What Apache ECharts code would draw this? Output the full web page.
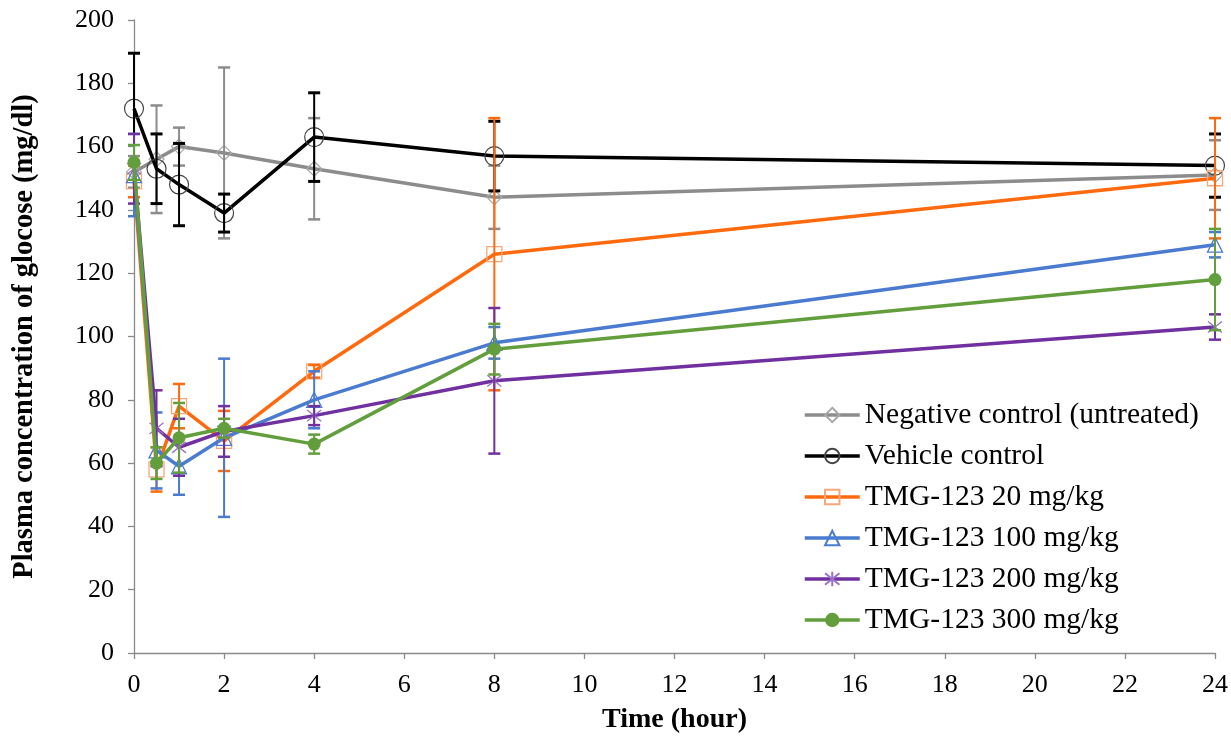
<!DOCTYPE html>
<html>
<head>
<meta charset="utf-8">
<script src="https://cdn.jsdelivr.net/npm/echarts@6/dist/echarts.min.js"></script>
<style>
  html, body { margin: 0; padding: 0; background: #fff; }
  #chart { width: 1231px; height: 740px; }
</style>
</head>
<body>
<div id="chart"></div>
<script>
// Sampling times (hours after dosing)
const times = [0, 0.5, 1, 2, 4, 8, 24];

// Mean plasma glucose (mg/dl) and error (+/-) per group
const negCtrl   = [152, 156, 160, 158, 153, 144, 151];
const negErr    = [5, 17, 6, 27, 16, 10, 11];
const vehicle   = [172, 153, 148, 139, 163, 157, 154];
const vehErr    = [17.5, 11, 13, 6, 14, 11, 10];
const tmg20     = [149, 58, 78, 67, 89, 126, 150];
const tmg20Err  = [5, 7, 7, 9.5, 2, 43, 19];
const tmg100    = [151, 64, 59, 68, 80, 98, 129];
const tmg100Err = [13, 12, 9, 25, 9, 5, 4];
const tmg200    = [153, 71, 65, 70, 75, 86, 103];
const tmg200Err = [11, 12, 9, 8, 3, 23, 4];
const tmg300    = [155, 60, 68, 71, 66, 96, 118];
const tmg300Err = [5.5, 5, 11, 3, 3, 8, 16];

// Axis ticks
const xTicks = [0, 2, 4, 6, 8, 10, 12, 14, 16, 18, 20, 22, 24];
const yTicks = [0, 20, 40, 60, 80, 100, 120, 140, 160, 180, 200];

const seriesNames = [
  'Negative control (untreated)',
  'Vehicle control',
  'TMG-123 20 mg/kg',
  'TMG-123 100 mg/kg',
  'TMG-123 200 mg/kg',
  'TMG-123 300 mg/kg'
];

const FONT = "'Liberation Serif', 'Times New Roman', serif";
const starPath = 'path://M1,1L9,9M9,1L1,9M5,0L5,10';

const groups = [
  { name: seriesNames[0], values: negCtrl, err: negErr, line: '#8C8C8C', bar: '#8C8C8C', capW: 2.5,
    symbol: 'diamond', size: 15, fill: 'rgba(0,0,0,0)', border: '#A8A8A8', bw: 1.2 },
  { name: seriesNames[1], values: vehicle, err: vehErr, line: '#000000', bar: '#000000', capW: 3,
    symbol: 'circle', size: 19, fill: 'rgba(0,0,0,0)', border: '#444444', bw: 1.2 },
  { name: seriesNames[2], values: tmg20, err: tmg20Err, line: '#FF6A0E', bar: '#FF6A0E', capW: 2.5,
    symbol: 'rect', size: 15, fill: 'rgba(0,0,0,0)', border: '#F8A878', bw: 1.3 },
  { name: seriesNames[3], values: tmg100, err: tmg100Err, line: '#4A7BD0', bar: '#4A7BD0', capW: 2.5,
    symbol: 'triangle', size: 15, fill: 'rgba(0,0,0,0)', border: '#4A7BD0', bw: 1.3 },
  { name: seriesNames[4], values: tmg200, err: tmg200Err, line: '#7030A0', bar: '#7030A0', capW: 2.5,
    symbol: starPath, size: 14, fill: 'rgba(0,0,0,0)', border: '#9B72C9', bw: 1.3 },
  { name: seriesNames[5], values: tmg300, err: tmg300Err, line: '#629F3C', bar: '#629F3C', capW: 2.5,
    symbol: 'circle', size: 13, fill: '#629F3C', border: '#629F3C', bw: 0 }
];

function errorBarRenderer(color, capWidth) {
  return function (params, api) {
    const x = api.value(0);
    const lo = api.coord([x, api.value(1)]);
    const hi = api.coord([x, api.value(2)]);
    const half = 6;
    const style = { stroke: color, lineWidth: 2 };
    const capStyle = { stroke: color, lineWidth: capWidth };
    return {
      type: 'group',
      children: [
        { type: 'line', shape: { x1: lo[0], y1: lo[1], x2: hi[0], y2: hi[1] }, style: style },
        { type: 'line', shape: { x1: hi[0] - half, y1: hi[1], x2: hi[0] + half, y2: hi[1] }, style: capStyle },
        { type: 'line', shape: { x1: lo[0] - half, y1: lo[1], x2: lo[0] + half, y2: lo[1] }, style: capStyle }
      ]
    };
  };
}

const series = [];
groups.forEach(function (g, i) {
  series.push({
    name: g.name,
    type: 'line',
    data: times.map(function (t, k) { return [t, g.values[k]]; }),
    symbol: g.symbol,
    symbolSize: g.size,
    showAllSymbol: true,
    z: 2 + i * 2,
    lineStyle: { color: g.line, width: 3.5 },
    itemStyle: { color: g.fill, borderColor: g.border, borderWidth: g.bw },
    emphasis: { disabled: true },
    animation: false
  });
  series.push({
    name: g.name + ' error',
    type: 'custom',
    z: 3 + i * 2,
    renderItem: errorBarRenderer(g.bar, g.capW),
    encode: { x: 0, y: [1, 2] },
    data: times.map(function (t, k) {
      return [t, g.values[k] - g.err[k], g.values[k] + g.err[k]];
    }),
    silent: true,
    animation: false
  });
});

const chart = echarts.init(document.getElementById('chart'), null, { renderer: 'canvas' });
chart.setOption({
  animation: false,
  backgroundColor: '#ffffff',
  grid: { left: 134, right: 15, top: 20, bottom: 87, containLabel: false },
  legend: {
    data: seriesNames,
    orient: 'vertical',
    left: 803,
    top: 400,
    padding: 0,
    itemWidth: 55,
    itemHeight: 18,
    itemGap: 11,
    lineStyle: { width: 3.5 },
    textStyle: { fontFamily: FONT, fontSize: 29.5, color: '#000', lineHeight: 28 },
    selectedMode: false
  },
  xAxis: {
    type: 'value',
    min: xTicks[0],
    max: xTicks[xTicks.length - 1],
    interval: xTicks[1] - xTicks[0],
    name: 'Time (hour)',
    nameLocation: 'middle',
    nameGap: 53,
    nameTextStyle: { fontFamily: FONT, fontSize: 28, fontWeight: 'bold', color: '#000' },
    axisLine: { lineStyle: { color: '#8A8A8A', width: 1.3 } },
    axisTick: { show: true, length: 6, inside: false, lineStyle: { color: '#8A8A8A', width: 1.3 } },
    axisLabel: { fontFamily: FONT, fontSize: 26, color: '#000', margin: 19 },
    splitLine: { show: false }
  },
  yAxis: {
    type: 'value',
    min: yTicks[0],
    max: yTicks[yTicks.length - 1],
    interval: yTicks[1] - yTicks[0],
    name: 'Plasma concentration of glocose (mg/dl)',
    nameLocation: 'middle',
    nameRotate: 90,
    nameGap: 95,
    nameTextStyle: { fontFamily: FONT, fontSize: 28.5, fontWeight: 'bold', color: '#000' },
    axisLine: { show: true, lineStyle: { color: '#8A8A8A', width: 1.3 } },
    axisTick: { show: true, length: 6, inside: false, lineStyle: { color: '#8A8A8A', width: 1.3 } },
    axisLabel: { fontFamily: FONT, fontSize: 26, color: '#000', margin: 20 },
    splitLine: { show: false }
  },
  series: series
});
</script>
</body>
</html>
